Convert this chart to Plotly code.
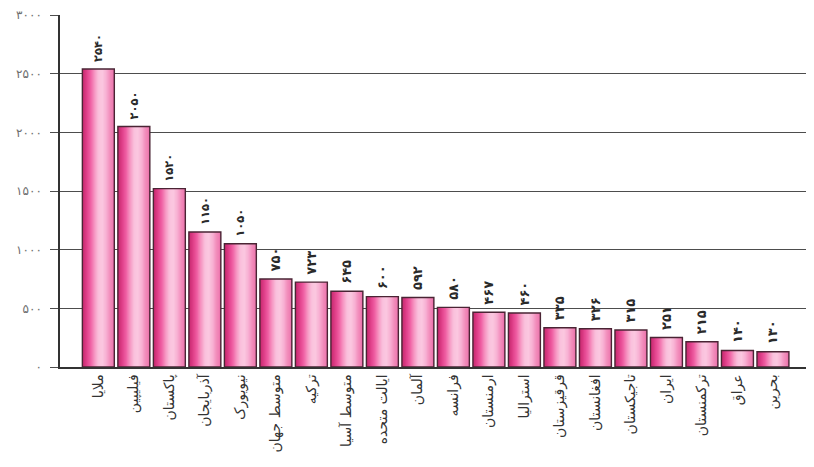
import plotly.graph_objects as go

categories = ["ملایا", "فیلیپین", "پاکستان", "آذربایجان", "نیویورک", "متوسط جهان",
              "ترکیه", "متوسط آسیا", "ایالت متحده", "آلمان", "فرانسه", "ارمنستان",
              "استرالیا", "قرقیزستان", "افغانستان", "تاجیکستان", "ایران", "ترکمنستان",
              "عراق", "بحرین"]
values = [2540, 2050, 1520, 1150, 1050, 750, 723, 645, 600, 592, 508, 467,
          460, 335, 326, 315, 251, 215, 140, 130]
value_labels = ["۲۵۴۰", "۲۰۵۰", "۱۵۲۰", "۱۱۵۰", "۱۰۵۰", "۷۵۰", "۷۲۳", "۶۴۵", "۶۰۰", "۵۹۲",
                "۵۸۰", "۴۶۷", "۴۶۰", "۳۳۵", "۳۲۶", "۳۱۵", "۲۵۱", "۲۱۵", "۱۴۰", "۱۳۰"]
y_tickvals = [0, 500, 1000, 1500, 2000, 2500, 3000]
y_ticktext = ["۰", "۵۰۰", "۱۰۰۰", "۱۵۰۰", "۲۰۰۰", "۲۵۰۰", "۳۰۰۰"]

# gradient key colours across the bar (left -> right), style only
key_colors = [(200, 42, 112), (224, 64, 138), (240, 96, 164), (246, 150, 194),
              (250, 192, 220), (251, 200, 224), (248, 178, 212), (242, 142, 188),
              (236, 118, 174)]


def interp_colors(keys, n):
    out = []
    for i in range(n):
        t = i / (n - 1) * (len(keys) - 1)
        k = min(int(t), len(keys) - 2)
        f = t - k
        a, b = keys[k], keys[k + 1]
        c = tuple(round(a[j] + (b[j] - a[j]) * f) for j in range(3))
        out.append("rgb(%d,%d,%d)" % c)
    return out


stripe_colors = interp_colors(key_colors, 28)

x = list(range(len(categories)))
W = 0.9
n = len(stripe_colors)
sw = W / n

fig = go.Figure()
for i, c in enumerate(stripe_colors):
    fig.add_trace(go.Bar(
        x=x, y=values, width=sw * 1.8 if i < n - 1 else sw, offset=-W / 2 + i * sw,
        marker=dict(color=c, line=dict(width=0)), showlegend=False, hoverinfo="skip"))

fig.add_trace(go.Bar(
    x=x, y=values, width=W, offset=-W / 2,
    marker=dict(color="rgba(0,0,0,0)", line=dict(color="#4a2434", width=1.4)),
    text=["\u00a0" + s for s in value_labels], textposition="outside", textangle=-90,
    textfont=dict(family="DejaVu Sans", size=13, color="#2a2a2a", weight="bold"),
    cliponaxis=False, showlegend=False))

# page body has an 8px default margin: figure is offset by 8px right/down
fig.update_layout(
    width=806, height=459,
    barmode="overlay",
    plot_bgcolor="white", paper_bgcolor="white",
    margin=dict(l=52, r=2, t=7, b=100),
    font=dict(family="DejaVu Sans"),
    xaxis=dict(
        tickmode="array", tickvals=x, ticktext=categories,
        tickangle=-90, range=[-1.08, 20.1], automargin=False,
        tickfont=dict(family="DejaVu Sans", size=14, color="#333333"),
        showline=True, linecolor="#333333", linewidth=1.5,
        showgrid=False, ticks="", zeroline=False),
    yaxis=dict(
        range=[0, 3000], tickmode="array", tickvals=y_tickvals, ticktext=y_ticktext,
        automargin=False,
        tickfont=dict(family="DejaVu Sans", size=12, color="#6e6e6e"),
        showline=True, linecolor="#333333", linewidth=1.5,
        showgrid=True, gridcolor="#4d4d4d", gridwidth=1.2,
        ticks="outside", ticklen=8, tickcolor="#4d4d4d", tickwidth=1.2,
        ticklabelstandoff=6, zeroline=False),
)

fig.write_html("out.html")
